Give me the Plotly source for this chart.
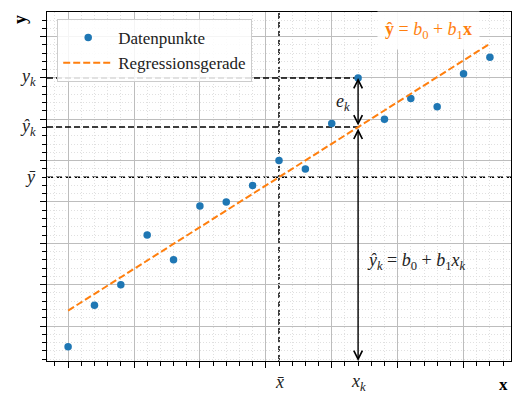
import numpy as np
import plotly.graph_objects as go

# ---------------- data ----------------
x_data = list(range(17))
y_data = [0.5, 1.5, 2.0, 3.2, 2.6, 3.9, 4.0, 4.4, 5.0, 4.8,
          5.9, 7.0, 6.0, 6.5, 6.3, 7.1, 7.5]
k_index = 11
legend_labels = ["Datenpunkte", "Regressionsgerade"]
x_range = [-0.8, 16.8]
y_range = [0.154, 8.594]
x_major, x_minor = 2.5, 0.5
y_major, y_minor = 1.0, 0.2

# ---------------- regression ----------------
xa = np.array(x_data, dtype=float)
ya = np.array(y_data, dtype=float)
b1, b0 = np.polyfit(xa, ya, 1)
x_mean, y_mean = xa.mean(), ya.mean()
x_k, y_k = xa[k_index], ya[k_index]
yhat_k = b0 + b1 * x_k
x_line = np.array([xa.min(), xa.max()])
y_line = b0 + b1 * x_line

BLUE = "#1f77b4"
ORANGE = "#ff7f0e"
FONT = "Liberation Serif"
TXT = "#222222"

fig = go.Figure()
fig.add_trace(go.Scatter(x=x_data, y=y_data, mode="markers", name=legend_labels[0],
                         marker=dict(color=BLUE, size=7.5)))
fig.add_trace(go.Scatter(x=x_line, y=y_line, mode="lines", name=legend_labels[1],
                         line=dict(color=ORANGE, width=2, dash="7px,3px")))

dash_black = dict(color="black", width=1.5, dash="6px,3px")
# helper lines
fig.add_shape(type="line", xref="x", yref="y", x0=x_range[0], x1=x_k, y0=y_k, y1=y_k,
              line=dash_black, layer="between")
fig.add_shape(type="line", xref="x", yref="y", x0=x_range[0], x1=x_k, y0=yhat_k, y1=yhat_k,
              line=dash_black, layer="between")
fig.add_shape(type="line", xref="paper", yref="y", x0=0, x1=1, y0=y_mean, y1=y_mean,
              line=dash_black, layer="between")
fig.add_shape(type="line", xref="x", yref="paper", x0=x_mean, x1=x_mean, y0=0, y1=1,
              line=dash_black, layer="between")

# arrows
arrow_common = dict(xref="x", yref="y", axref="x", ayref="y", text="", showarrow=True,
                    arrowside="end+start", arrowhead=5, startarrowhead=5,
                    arrowsize=1.2, startarrowsize=1.2, arrowwidth=1.4, arrowcolor="black")
fig.add_annotation(x=x_k, y=y_k, ax=x_k, ay=yhat_k, **arrow_common)
fig.add_annotation(x=x_k, y=y_range[0], ax=x_k, ay=yhat_k, **arrow_common)

# text annotations
fig.add_annotation(x=x_k, y=(y_k + yhat_k) / 2, xref="x", yref="y", xanchor="right",
                   xshift=-6, showarrow=False,
                   text="<i>e</i><sub><i>k</i></sub>", font=dict(size=18, color=TXT))
fig.add_annotation(x=x_k, y=2.55, xref="x", yref="y", xanchor="left", xshift=7,
                   showarrow=False,
                   text="<i>ŷ</i><sub><i>k</i></sub> = <i>b</i><sub>0</sub> + <i>b</i><sub>1</sub><i>x</i><sub><i>k</i></sub>",
                   font=dict(size=18, color=TXT))
fig.add_annotation(x=0.822, y=0.946, xref="paper", yref="paper", xanchor="center",
                   yanchor="middle", showarrow=False,
                   text="<b>ŷ</b> = <i>b</i><sub>0</sub> + <i>b</i><sub>1</sub><b>x</b>",
                   font=dict(size=18, color=ORANGE), bgcolor="rgba(255,255,255,0.9)",
                   borderpad=7)

# pseudo tick labels
for yv, txt in [(y_k, "<i>y</i><sub><i>k</i></sub>"), (yhat_k, "<i>ŷ</i><sub><i>k</i></sub>"),
                (y_mean, "<i>ȳ</i>")]:
    fig.add_annotation(x=0, y=yv, xref="paper", yref="y", xanchor="right", yanchor="middle",
                       xshift=-9, showarrow=False, text=txt, font=dict(size=18, color=TXT))
for xv, txt in [(x_mean, "<i>x̄</i>"), (x_k, "<i>x</i><sub><i>k</i></sub>")]:
    fig.add_annotation(x=xv, y=0, xref="x", yref="paper", xanchor="center", yanchor="middle",
                       yshift=-21, showarrow=False, text=txt, font=dict(size=18, color=TXT))

# axis labels
fig.add_annotation(x=1, y=0, xref="paper", yref="paper", xanchor="right", yanchor="middle",
                   yshift=-23, xshift=-1, showarrow=False, text="<b>x</b>",
                   font=dict(size=17, color="black"))
fig.add_annotation(x=0, y=1, xref="paper", yref="paper", xanchor="center", yanchor="middle",
                   xshift=-27, yshift=-8, textangle=-90, showarrow=False, text="<b>y</b>",
                   font=dict(size=18, color="black"))

axis_common = dict(showline=True, linecolor="black", linewidth=1.2, mirror=True,
                   ticks="outside", ticklen=6, tickwidth=1, tickcolor="black",
                   showticklabels=False, showgrid=True, gridcolor="#bdbdbd", gridwidth=1,
                   zeroline=False)
minor_common = dict(tick0=0, ticks="outside", ticklen=3.5, tickcolor="black",
                    showgrid=True, gridcolor="#e0e0e0", griddash="1px,2px", gridwidth=1)
fig.update_xaxes(range=x_range, tick0=0, dtick=x_major,
                 minor=dict(dtick=x_minor, **minor_common), **axis_common)
fig.update_yaxes(range=y_range, tick0=0, dtick=y_major,
                 minor=dict(dtick=y_minor, **minor_common), **axis_common)

fig.update_layout(
    width=513, height=393,
    margin=dict(l=47, r=2, t=12, b=32),
    plot_bgcolor="white", paper_bgcolor="white",
    font=dict(family=FONT, size=16, color=TXT),
    legend=dict(x=0.022, y=0.98, xanchor="left", yanchor="top",
                bgcolor="rgba(255,255,255,0.85)", bordercolor="#cccccc", borderwidth=1,
                font=dict(size=17, family=FONT), itemwidth=50, tracegroupgap=0),
)

fig.write_html("out.html", config={"displayModeBar": False},
               post_script="document.body.style.margin='0';")
